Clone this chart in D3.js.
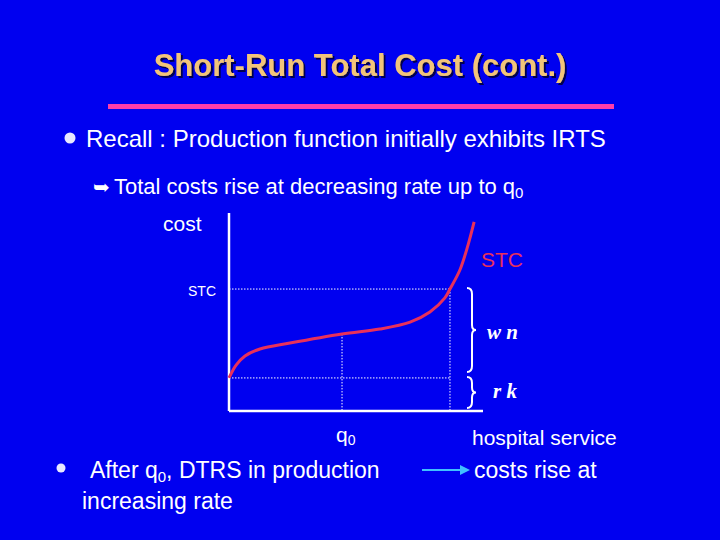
<!DOCTYPE html><html><head><meta charset="utf-8">
<script src="https://cdn.jsdelivr.net/npm/d3@7"></script>
<style>body{margin:0;background:#0000f0}</style></head><body>
<script>
const qValues=[0,0.28,0.63,1.22,2.4,4.45,5.94,7.13,7.91,8.5,8.7,9.09,9.41,9.65];
const stcValues=[1.67,2.32,2.78,3.13,3.43,3.89,4.14,4.49,5.0,5.71,6.16,7.12,8.38,9.55];
const q0=4.45, q1=8.7, stcLevel=6.16, fixedLevel=1.67;
const labels={title:"Short-Run Total Cost (cont.)",b1:"Recall : Production function initially exhibits IRTS",b2:"Total costs rise at decreasing rate up to q",y:"cost",x:"hospital service"};

const svg=d3.select("body").append("svg").attr("width",720).attr("height",540);
svg.append("rect").attr("width",720).attr("height",540).attr("fill","#0000f0");
const F="Liberation Sans, Arial, sans-serif";
const defs=svg.append("defs");
defs.append("filter").attr("id","sh").append("feDropShadow").attr("dx",2).attr("dy",2).attr("stdDeviation",0.5).attr("flood-color","#000050");
svg.append("text").attr("x",360).attr("y",76).attr("text-anchor","middle").attr("font-family",F).attr("font-weight","bold").attr("font-size",31).attr("fill","#f2c47a").attr("filter","url(#sh)").text(labels.title);
svg.append("rect").attr("x",108).attr("y",104).attr("width",506).attr("height",5).attr("fill","#ff3caa");
svg.append("circle").attr("cx",70).attr("cy",138).attr("r",5.5).attr("fill","#e8e8ff");
svg.append("text").attr("x",86).attr("y",147).attr("font-family",F).attr("font-size",24).attr("fill","white").text(labels.b1);
svg.append("text").attr("x",93).attr("y",194).attr("font-family","DejaVu Sans").attr("font-size",20).attr("fill","white").text("➥");
const tt=svg.append("text").attr("x",114).attr("y",194).attr("font-family",F).attr("font-size",22).attr("fill","white");
tt.append("tspan").text(labels.b2);tt.append("tspan").attr("font-size",15).attr("dy",4).text("0");

const x=d3.scaleLinear().domain([0,10]).range([229,483]);
const y=d3.scaleLinear().domain([0,10]).range([411,213]);
const W="white";
svg.append("line").attr("x1",x(0)).attr("x2",x(0)).attr("y1",y(10)).attr("y2",y(0)).attr("stroke",W).attr("stroke-width",2.5);
svg.append("line").attr("x1",x(0)).attr("x2",x(10)).attr("y1",y(0)).attr("y2",y(0)).attr("stroke",W).attr("stroke-width",2.5);
const dot=(x1,y1,x2,y2)=>svg.append("line").attr("x1",x1).attr("y1",y1).attr("x2",x2).attr("y2",y2).attr("stroke",W).attr("stroke-width",1).attr("stroke-dasharray","1.5,1.5");
dot(x(0),y(stcLevel),x(q1),y(stcLevel));
dot(x(0),y(fixedLevel),x(q1),y(fixedLevel));
dot(x(q0),y(3.89),x(q0),y(0));
dot(x(q1),y(stcLevel),x(q1),y(0));
const pts=qValues.map((q,i)=>[x(q),y(stcValues[i])]);
svg.append("path").attr("d",d3.line().curve(d3.curveCatmullRom)(pts)).attr("fill","none").attr("stroke","#e8305a").attr("stroke-width",3);
svg.append("text").attr("x",163).attr("y",231).attr("font-family",F).attr("font-size",21).attr("fill",W).text(labels.y);
svg.append("text").attr("x",188).attr("y",296).attr("font-family",F).attr("font-size",14).attr("fill",W).text("STC");
svg.append("text").attr("x",481).attr("y",267).attr("font-family",F).attr("font-size",21).attr("fill","#e8305a").text("STC");
function brace(x0,y1,y2){const m=(y1+y2)/2;
 svg.append("path").attr("d",`M${x0},${y1} Q${x0+5},${y1} ${x0+5},${y1+6} L${x0+5},${m-5} Q${x0+5},${m} ${x0+9},${m} Q${x0+5},${m} ${x0+5},${m+5} L${x0+5},${y2-6} Q${x0+5},${y2} ${x0},${y2}`).attr("fill","none").attr("stroke",W).attr("stroke-width",2);}
brace(467,y(stcLevel)-1,y(fixedLevel)-6);
brace(467,y(fixedLevel)-1,y(0)-3);
svg.append("text").attr("x",487).attr("y",339).attr("font-family","Liberation Serif, serif").attr("font-style","italic").attr("font-weight","bold").attr("font-size",21).attr("fill",W).text("w n");
svg.append("text").attr("x",493).attr("y",398).attr("font-family","Liberation Serif, serif").attr("font-style","italic").attr("font-weight","bold").attr("font-size",21).attr("fill",W).text("r k");
const q=svg.append("text").attr("x",336).attr("y",442).attr("font-family",F).attr("font-size",21).attr("fill",W);
q.append("tspan").text("q");q.append("tspan").attr("font-size",14).attr("dy",3).text("0");
svg.append("text").attr("x",472).attr("y",445).attr("font-family",F).attr("font-size",21).attr("fill",W).text(labels.x);
svg.append("circle").attr("cx",61).attr("cy",468).attr("r",4.5).attr("fill","#e8e8ff");
const b3=svg.append("text").attr("x",90).attr("y",478).attr("font-family",F).attr("font-size",23).attr("fill",W);
b3.append("tspan").text("After q");b3.append("tspan").attr("font-size",15).attr("dy",4).text("0");b3.append("tspan").attr("dy",-4).text(", DTRS in production");
svg.append("text").attr("x",82).attr("y",509).attr("font-family",F).attr("font-size",23).attr("fill",W).text("increasing  rate");
svg.append("text").attr("x",474).attr("y",478).attr("font-family",F).attr("font-size",23).attr("fill",W).text("costs rise at");
svg.append("line").attr("x1",422).attr("x2",462).attr("y1",470).attr("y2",470).attr("stroke","#40c0ff").attr("stroke-width",2);
svg.append("path").attr("d","M470,470 L460,465 L460,475 Z").attr("fill","#40c0ff");
</script></body></html>
